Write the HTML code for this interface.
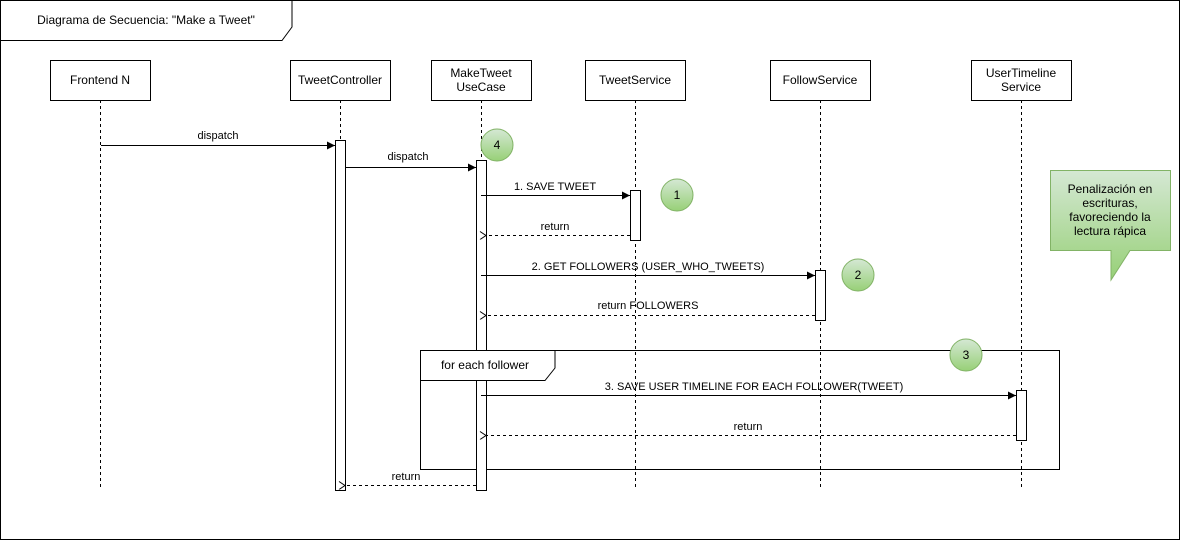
<!DOCTYPE html>
<html><head><meta charset="utf-8"><style>body{margin:0;background:#fff}svg{display:block;font-family:"Liberation Sans",Arial,sans-serif}</style></head><body>
<svg width="1181" height="542" viewBox="0 0 1181 542" xmlns="http://www.w3.org/2000/svg">
<defs>
<marker id="a" markerWidth="10" markerHeight="10" refX="8" refY="4" orient="auto" markerUnits="userSpaceOnUse"><path d="M0,0 L8,4 L0,8 Z" fill="#000"/></marker>
<marker id="o" markerWidth="10" markerHeight="10" refX="1" refY="4" orient="auto" markerUnits="userSpaceOnUse"><path d="M7,0 L1,4 L7,8" fill="none" stroke="#000"/></marker>
<linearGradient id="g" x1="0" y1="0" x2="0" y2="1"><stop offset="0" stop-color="#d5e8d4"/><stop offset="1" stop-color="#97d077"/></linearGradient>
</defs>
<rect x="0.5" y="0.5" width="1179" height="539" fill="#fff" stroke="#000"/>
<path d="M0.5,40.5 H282 L292,27 V0.5" fill="none" stroke="#000"/>
<text x="146" y="24" font-size="12" text-anchor="middle">Diagrama de Secuencia: "Make a Tweet"</text>
<g stroke="#000" stroke-dasharray="3,3" fill="none">
<line x1="100.5" y1="100" x2="100.5" y2="488"/>
<line x1="340.5" y1="100" x2="340.5" y2="488"/>
<line x1="481.5" y1="100" x2="481.5" y2="488"/>
<line x1="635.5" y1="100" x2="635.5" y2="488"/>
<line x1="820.5" y1="100" x2="820.5" y2="488"/>
<line x1="1021.5" y1="100" x2="1021.5" y2="488"/>
</g>
<g fill="#fff" stroke="#000">
<rect x="50.5" y="60.5" width="100" height="40"/>
<rect x="290.5" y="60.5" width="100" height="40"/>
<rect x="431.5" y="60.5" width="100" height="40"/>
<rect x="585.5" y="60.5" width="100" height="40"/>
<rect x="770.5" y="60.5" width="100" height="40"/>
<rect x="971.5" y="60.5" width="100" height="40"/>
</g>
<g font-size="12" text-anchor="middle">
<text x="100" y="84">Frontend N</text>
<text x="340" y="84">TweetController</text>
<text x="481" y="77">MakeTweet</text><text x="481" y="91">UseCase</text>
<text x="635" y="84">TweetService</text>
<text x="820" y="84">FollowService</text>
<text x="1021" y="77">UserTimeline</text><text x="1021" y="91">Service</text>
</g>
<path d="M420.5,350.5 H1059.5 V469.5 H420.5 Z" fill="none" stroke="#000"/>
<g fill="#fff" stroke="#000">
<rect x="335.5" y="140.5" width="10" height="350"/>
<rect x="476.5" y="160.5" width="10" height="330"/>
<rect x="630.5" y="190.5" width="10" height="50"/>
<rect x="815.5" y="270.5" width="10" height="50"/>
<rect x="1016.5" y="390.5" width="10" height="50"/>
</g>
<path d="M420.5,380.5 H545 L555,368 V350.5 H420.5 Z" fill="#fff" stroke="#000"/>
<text x="485" y="369" font-size="12" text-anchor="middle">for each follower</text>
<g stroke="#000" fill="none">
<line x1="101" y1="145.5" x2="335" y2="145.5" marker-end="url(#a)"/>
<line x1="345" y1="167.5" x2="476" y2="167.5" marker-end="url(#a)"/>
<line x1="481" y1="195.5" x2="630" y2="195.5" marker-end="url(#a)"/>
<line x1="630" y1="235.5" x2="486" y2="235.5" stroke-dasharray="3,3" marker-end="url(#o)"/>
<line x1="481" y1="275.5" x2="815" y2="275.5" marker-end="url(#a)"/>
<line x1="815" y1="315.5" x2="486" y2="315.5" stroke-dasharray="3,3" marker-end="url(#o)"/>
<line x1="481" y1="395.5" x2="1016" y2="395.5" marker-end="url(#a)"/>
<line x1="1016" y1="435.5" x2="486" y2="435.5" stroke-dasharray="3,3" marker-end="url(#o)"/>
<line x1="476" y1="485.5" x2="345" y2="485.5" stroke-dasharray="3,3" marker-end="url(#o)"/>
</g>
<g font-size="11" text-anchor="middle">
<text x="218" y="139">dispatch</text>
<text x="408" y="160">dispatch</text>
<text x="555" y="190">1. SAVE TWEET</text>
<text x="555" y="230">return</text>
<text x="648" y="270">2. GET FOLLOWERS (USER_WHO_TWEETS)</text>
<text x="648" y="309">return FOLLOWERS</text>
<text x="754" y="390">3. SAVE USER TIMELINE FOR EACH FOLLOWER(TWEET)</text>
<text x="748" y="430">return</text>
<text x="406" y="480">return</text>
</g>
<g stroke="#82b366" fill="url(#g)">
<circle cx="497" cy="145" r="16"/>
<circle cx="677" cy="195" r="16"/>
<circle cx="858" cy="275" r="16"/>
<circle cx="966" cy="355" r="16"/>
<path d="M1050.5,170.5 H1170.5 V250.5 H1130 L1111,280 V250.5 H1050.5 Z"/>
</g>
<g font-size="12" text-anchor="middle">
<text x="497" y="149">4</text><text x="677" y="199">1</text><text x="858" y="279">2</text><text x="966" y="359">3</text>
<text x="1110" y="193">Penalización en</text>
<text x="1110" y="207">escrituras,</text>
<text x="1110" y="221">favoreciendo la</text>
<text x="1110" y="235">lectura rápica</text>
</g>
</svg>
</body></html>
